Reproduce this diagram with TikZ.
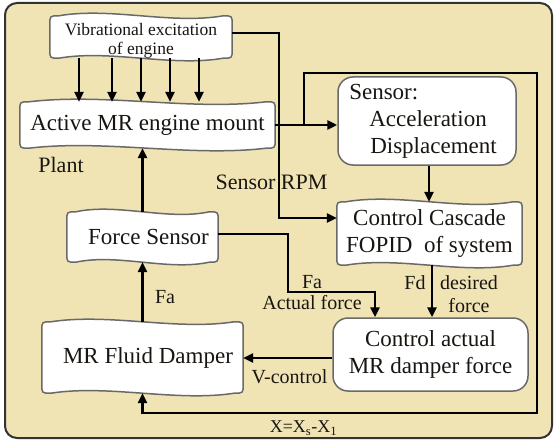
\documentclass[tikz,border=0pt]{standalone}
\usepackage{fontspec}
\setmainfont{Liberation Serif}
\usetikzlibrary{arrows.meta,calc,backgrounds}
\definecolor{bgtan}{RGB}{240,228,181}
\definecolor{edgegray}{RGB}{105,105,105}
\definecolor{txt}{RGB}{25,22,18}
\newcommand\wavyshape[1]{%
  \path[wshape] let \p1=(#1.north west), \p2=(#1.south east) in
  (\x1,\y1-9pt) -- (\x1,\y2+9pt)
  .. controls (\x1,\y2) .. (\x1+9pt,\y2)
  .. controls ({\x1+(\x2-\x1)/3},\y2+9pt) and ({\x1+2*(\x2-\x1)/3},\y2-9pt) .. (\x2-9pt,\y2)
  .. controls (\x2,\y2) .. (\x2,\y2+9pt)
  -- (\x2,\y1-9pt)
  .. controls (\x2,\y1) .. (\x2-9pt,\y1)
  .. controls ({\x1+2*(\x2-\x1)/3},\y1-9pt) and ({\x1+(\x2-\x1)/3},\y1+9pt) .. (\x1+9pt,\y1)
  .. controls (\x1,\y1) .. (\x1,\y1-9pt) -- cycle;}
\begin{document}
\begin{tikzpicture}[x=1pt,y=-1pt,
  every node/.style={text=txt, inner sep=0pt},
  box/.style={font=\fontsize{23}{27}\selectfont, align=center},
  rbox/.style={box, draw=edgegray, line width=1.5pt, fill=white, rounded corners=15pt},
  wshape/.style={draw=edgegray, line width=1.5pt, fill=white},
  lbl/.style={font=\fontsize{20}{23}\selectfont, align=center},
  conn/.style={line width=2.5pt, draw=black, -{Triangle[length=10pt,width=9pt]}}]
\useasboundingbox (0,0) rectangle (554,441);

% boxes
\node[minimum width=182pt, minimum height=42pt, font=\fontsize{17.5}{20}\selectfont,
      text height=28pt, text depth=12pt] (vib) at (141,37)
  {\begin{tabular}{@{}c@{}}Vibrational excitation\\[-1pt]of engine\end{tabular}};
\node[box, minimum width=255pt, minimum height=46pt] (amm) at (147.5,125) {Active MR engine mount};
\node[rbox, minimum width=178pt, minimum height=88pt, align=left] (sens) at (427,121) {Sensor:\\\hspace*{20pt}Acceleration\\\hspace*{21pt}Displacement\hspace*{8pt}};
\node[box, minimum width=185pt, minimum height=63pt] (ccf) at (429.5,233.5) {Control Cascade\\FOPID~ of system};
\node[box, minimum width=151pt, minimum height=50pt] (fs) at (142.5,237) {\hspace*{12pt}Force Sensor};
\node[box, minimum width=201pt, minimum height=71pt] (mrd) at (142.5,357.5) {\hspace*{11pt}MR Fluid Damper};
\node[rbox, minimum width=195pt, minimum height=73pt] (cam) at (430.5,354.5) {Control actual\\MR damper force};

% labels
\node[lbl, font=\fontsize{22}{26}\selectfont] (plant) at (61,165) {Plant};
\node[lbl, font=\fontsize{22}{26}\selectfont] (rpm) at (271.5,182) {Sensor RPM};
\node[lbl] (fa1) at (165,297) {Fa};
\node[lbl] (fa2) at (312,282) {Fa};
\node[lbl] (act) at (312,303) {Actual force};
\node[lbl] (fd) at (415,283) {Fd};
\node[lbl] (des) at (469,294.5) {desired\\force};
\node[lbl] (vc) at (289.5,377) {V-control};
\node[lbl, font=\fontsize{18}{20}\selectfont] (xeq) at (303.5,428) {X=X\textsubscript{s}-X\textsubscript{1}};

% background and wavy shapes
\begin{pgfonlayer}{background}
\draw[line width=2pt, draw=black!80, fill=bgtan, rounded corners=12pt] (5,3) rectangle (552,438);
\wavyshape{vib}
\wavyshape{amm}
\wavyshape{ccf}
\wavyshape{fs}
\wavyshape{mrd}
\end{pgfonlayer}

% junction coordinates
\coordinate (k1) at (279,218);
\coordinate (k0) at (304,125);
\coordinate (k2) at (537,73);
\coordinate (k3) at (537,413);
\coordinate (k4) at (288,292);
\coordinate (k5) at (375,292);

% connectors
\foreach \s in {-62,-29,0,29,58}
  \draw[conn] ([xshift=\s pt]vib.south) -- ([xshift=\s pt]vib.south |- amm.north);
\draw[conn] ([yshift=4pt]vib.east) -| (k1) -- (k1 -| ccf.west);
\draw[conn] (amm.east) -- (amm.east -| sens.west);
\draw[conn] (k0) |- (k2) -- (k3) -| (mrd.south);
\draw[conn] ([xshift=2pt]sens.south) -- ([xshift=2pt]sens.south |- ccf.north);
\draw[conn] ([yshift=3pt]fs.east) -| (k4) -- (k5) -- (k5 |- cam.north);
\draw[conn] ([xshift=2.5pt]ccf.south) -- ([xshift=2.5pt]ccf.south |- cam.north);
\draw[conn] (mrd.north) -- (mrd.north |- fs.south);
\draw[conn] (fs.north) -- (fs.north |- amm.south);
\draw[conn] ([yshift=-3.5pt]cam.west) -- ([yshift=-3.5pt]cam.west -| mrd.east);
\end{tikzpicture}
\end{document}
